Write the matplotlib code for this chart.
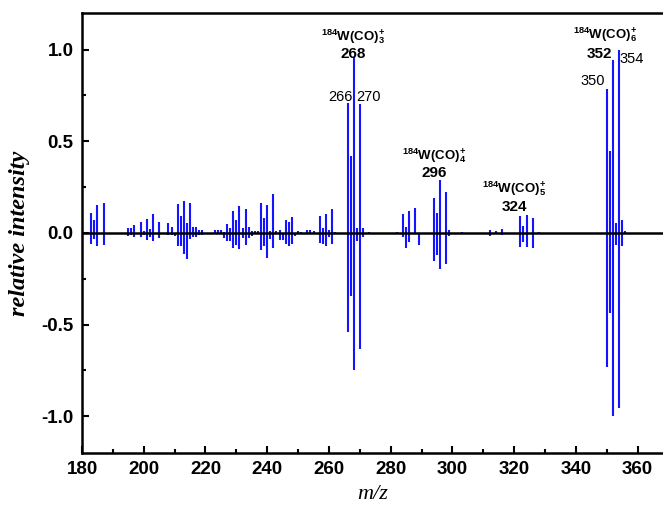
import matplotlib
matplotlib.use("Agg")
import matplotlib.pyplot as plt
from matplotlib.ticker import MultipleLocator

# stick spectrum: m/z, upper trace (positive), lower trace (negative)
mz = [183, 184, 185, 187,
      195, 196, 197, 199, 200, 201, 202, 203, 205,
      208, 209, 210, 211, 212, 213, 214, 215, 216, 217, 218, 219,
      223, 224, 225, 226, 227, 228, 229, 230, 231, 232, 233, 234, 235, 236, 237,
      238, 239, 240, 241, 242, 243, 244, 245, 246, 247, 248, 249, 250, 251,
      253, 254, 255, 257, 258, 259, 260, 261, 262,
      266, 267, 268, 269, 270, 271, 273,
      282, 284, 285, 286, 288, 289,
      294, 295, 296, 298, 299, 303, 312, 314, 316,
      322, 323, 324, 326, 328,
      350, 351, 352, 353, 354, 355, 356]
upper = [0.109, 0.072, 0.154, 0.163,
         0.027, 0.029, 0.042, 0.060, 0.011, 0.074, 0.020, 0.101, 0.060,
         0.054, 0.031, 0.0, 0.156, 0.094, 0.172, 0.053, 0.165, 0.031, 0.031, 0.014, 0.014,
         0.018, 0.018, 0.018, 0.004, 0.047, 0.029, 0.118, 0.068, 0.145, 0.029, 0.129, 0.034, 0.011, 0.008, 0.008,
         0.165, 0.083, 0.150, 0.009, 0.214, 0.009, 0.014, 0.0, 0.069, 0.060, 0.087, 0.0, 0.011, 0.006,
         0.014, 0.014, 0.009, 0.091, 0.029, 0.105, 0.014, 0.129, 0.006,
         0.707, 0.422, 0.960, 0.029, 0.701, 0.029, 0.005,
         0.007, 0.103, 0.031, 0.118, 0.138, 0.0,
         0.192, 0.109, 0.290, 0.223, 0.018, 0.005, 0.018, 0.010, 0.024,
         0.092, 0.036, 0.096, 0.080, 0.004,
         0.784, 0.444, 0.942, 0.056, 0.996, 0.072, 0.011]
lower = [-0.063, -0.031, -0.071, -0.067,
         -0.016, -0.013, -0.022, -0.025, -0.013, -0.036, -0.024, -0.042, -0.029,
         -0.009, -0.009, -0.016, -0.072, -0.069, -0.114, -0.141, -0.034, -0.025, -0.020, -0.009, -0.009,
         -0.004, -0.004, -0.006, -0.029, -0.042, -0.045, -0.082, -0.068, -0.087, -0.026, -0.068, -0.028, -0.017, -0.004, -0.004,
         -0.091, -0.072, -0.139, -0.031, -0.082, -0.004, -0.036, -0.036, -0.058, -0.072, -0.063, -0.018, -0.004, 0.0,
         0.0, 0.0, 0.0, -0.054, -0.058, -0.069, -0.022, -0.062, 0.0,
         -0.538, -0.344, -0.746, -0.043, -0.634, -0.022, 0.0,
         0.0, -0.025, -0.085, -0.052, 0.0, -0.067,
         -0.154, -0.121, -0.199, -0.167, -0.016, 0.0, -0.015, 0.0, -0.010,
         -0.076, -0.049, -0.076, -0.085, 0.0,
         -0.732, -0.438, -1.000, -0.067, -0.955, -0.072, -0.005]

# ion labels: (x, y, text)
ion_labels = [(267.7, 1.07, r"$\mathbf{{}^{184}W(CO)_{3}^{+}}$"),
              (294.0, 0.42, r"$\mathbf{{}^{184}W(CO)_{4}^{+}}$"),
              (320.0, 0.24, r"$\mathbf{{}^{184}W(CO)_{5}^{+}}$"),
              (349.3, 1.08, r"$\mathbf{{}^{184}W(CO)_{6}^{+}}$")]
main_mass = [(267.7, 0.975, "268"), (294.0, 0.325, "296"),
             (320.0, 0.14, "324"), (347.6, 0.975, "352")]
side_mass = [(263.6, 0.74, "266"), (272.9, 0.74, "270"),
             (345.4, 0.83, "350"), (358.0, 0.95, "354")]

plt.rcParams['axes.unicode_minus'] = False
plt.rcParams['mathtext.fontset'] = 'custom'
plt.rcParams['mathtext.rm'] = 'Liberation Sans'
plt.rcParams['mathtext.bf'] = 'Liberation Sans:bold'
plt.rcParams['font.family'] = 'Liberation Sans'

fig = plt.figure(figsize=(6.63, 5.13), dpi=100)
ax = fig.add_axes([0.1237, 0.117, 0.8763, 0.858])

ax.vlines(mz, 0, upper, color='#1414ff', lw=1.5)
ax.vlines(mz, 0, lower, color='#1414ff', lw=1.5)
ax.axhline(0, color='black', lw=1.8, zorder=3)

ax.set_xlim(180, 368.2)
ax.set_ylim(-1.2, 1.2)
ax.xaxis.set_major_locator(MultipleLocator(20))
ax.xaxis.set_minor_locator(MultipleLocator(10))
ax.yaxis.set_major_locator(MultipleLocator(0.5))
ax.yaxis.set_minor_locator(MultipleLocator(0.25))
ax.tick_params(which='both', direction='in', width=1.5, top=False, right=False)
ax.tick_params(which='major', length=5, labelsize=13.5, pad=6)
ax.tick_params(which='minor', length=3)
for lab in ax.get_xticklabels():
    lab.set_fontweight('bold')
ax.set_yticks([-1.0, -0.5, 0.0, 0.5, 1.0])
ax.set_yticklabels(['-1.0', '-0.5', '0.0', '0.5', '1.0'], fontweight='bold')
for s in ['left', 'bottom', 'top']:
    ax.spines[s].set_linewidth(1.8)
ax.spines['right'].set_visible(False)

ax.set_ylabel('relative intensity', family='Liberation Serif', style='italic',
              fontweight='bold', fontsize=17.5, labelpad=8)
ax.set_xlabel('m/z', family='Liberation Serif', style='italic', fontsize=16, labelpad=5)

for x, y, t in ion_labels:
    ax.text(x, y, t, fontsize=9.5, ha='center', va='center')
for x, y, t in main_mass:
    ax.text(x, y, t, fontsize=11, fontweight='bold', ha='center', va='center')
for x, y, t in side_mass:
    ax.text(x, y, t, fontsize=10.5, ha='center', va='center')

fig.savefig('out.png', dpi=100)
